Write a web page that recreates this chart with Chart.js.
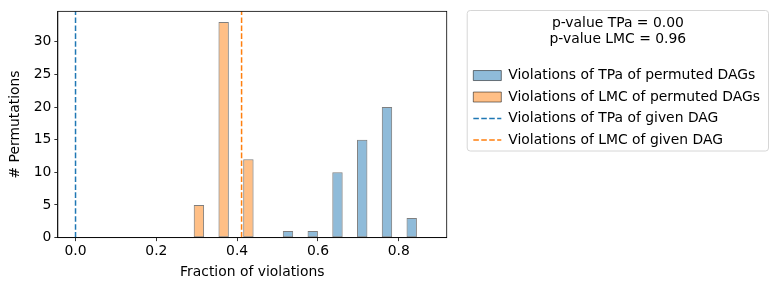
<!DOCTYPE html>
<html>
<head>
<meta charset="utf-8">
<script src="https://cdn.jsdelivr.net/npm/chart.js@4.4.1/dist/chart.umd.min.js"></script>
<style>
  html, body { margin: 0; padding: 0; background: #fff; }
  #wrap { width: 778px; height: 290px; }
</style>
</head>
<body>
<div id="wrap"><canvas id="chart"></canvas></div>
<script>
var binEdges = [0.2625, 0.32375, 0.385, 0.44625, 0.5075, 0.56875, 0.63, 0.69125, 0.7525, 0.81375, 0.875];
var tpaCounts = [0, 0, 0, 0, 1, 1, 10, 15, 20, 3];
var lmcCounts = [5, 33, 12, 0, 0, 0, 0, 0, 0, 0];
var tpaGiven = 0.0;
var lmcGiven = 0.411;
var seriesLabels = [
  'Violations of TPa of permuted DAGs',
  'Violations of LMC of permuted DAGs',
  'Violations of TPa of given DAG',
  'Violations of LMC of given DAG'
];
var pValueLines = ['p-value TPa = 0.00', 'p-value LMC = 0.96'];
var xTicks = [0.0, 0.2, 0.4, 0.6, 0.8];
var yTicks = [0, 5, 10, 15, 20, 25, 30];
var xRange = [-0.04375, 0.91875];
var yRange = [0, 34.65];

var FONT = 'DejaVu Sans';
var blue = '#1f77b4', orange = '#ff7f0e';

// matplotlib puts the two histograms side by side in each bin
function histBars(counts, slot) {
  var pts = [];
  for (var i = 0; i < counts.length; i++) {
    if (!counts[i]) continue;
    var w = binEdges[i + 1] - binEdges[i];
    pts.push({x: binEdges[i] + w * (0.3 + 0.4 * slot), y: counts[i]});
  }
  return pts;
}

function vline(v) {
  return [{x: v, y: yRange[0]}, {x: v, y: yRange[1]}];
}

var framePlugin = {
  id: 'frame',
  afterLayout: function(chart) {
    var lg = chart.legend;
    var dx = 19;
    lg.left += dx;
    lg.right += dx;
  },
  beforeDraw: function(chart) {
    var lg = chart.legend, ctx = chart.ctx;
    var x0 = lg.left + 1.5, y0 = lg.top + 0.5, x1 = lg.left + lg.width - 1.5, y1 = lg.top + 141, r = 3;
    ctx.save();
    ctx.beginPath();
    ctx.moveTo(x0 + r, y0);
    ctx.arcTo(x1, y0, x1, y1, r);
    ctx.arcTo(x1, y1, x0, y1, r);
    ctx.arcTo(x0, y1, x0, y0, r);
    ctx.arcTo(x0, y0, x1, y0, r);
    ctx.closePath();
    ctx.fillStyle = '#fff';
    ctx.fill();
    ctx.lineWidth = 1;
    ctx.strokeStyle = '#d6d6d6';
    ctx.stroke();
    ctx.restore();
  },
  afterDatasetsDraw: function(chart) {
    var a = chart.chartArea, ctx = chart.ctx;
    ctx.save();
    ctx.lineWidth = 0.8;
    ctx.strokeStyle = '#000';
    ctx.strokeRect(a.left, a.top, a.right - a.left, a.bottom - a.top);
    ctx.restore();
  }
};

var chart = new Chart(document.getElementById('chart'), {
  type: 'bar',
  data: {
    datasets: [{
      label: seriesLabels[0],
      data: histBars(tpaCounts, 0),
      backgroundColor: 'rgba(31,119,180,0.5)',
      borderColor: 'rgba(0,0,0,0.5)',
      borderWidth: 1,
      borderSkipped: false,
      grouped: false,
      categoryPercentage: 1,
      barPercentage: 0.42
    }, {
      label: seriesLabels[1],
      data: histBars(lmcCounts, 1),
      backgroundColor: 'rgba(255,127,14,0.5)',
      borderColor: 'rgba(0,0,0,0.5)',
      borderWidth: 1,
      borderSkipped: false,
      grouped: false,
      categoryPercentage: 1,
      barPercentage: 0.42
    }, {
      type: 'line',
      label: seriesLabels[2],
      data: vline(tpaGiven),
      borderColor: blue,
      borderWidth: 1.5,
      borderDash: [5.55, 2.4],
      pointRadius: 0,
      fill: false
    }, {
      type: 'line',
      label: seriesLabels[3],
      data: vline(lmcGiven),
      borderColor: orange,
      borderWidth: 1.5,
      borderDash: [5.55, 2.4],
      pointRadius: 0,
      fill: false
    }]
  },
  options: {
    responsive: true,
    maintainAspectRatio: false,
    animation: false,
    layout: {padding: {left: 0, right: 27, top: 10, bottom: 5.5}},
    font: {family: FONT, size: 13.9},
    scales: {
      x: {
        type: 'linear',
        min: xRange[0],
        max: xRange[1],
        offset: false,
        afterBuildTicks: function(axis) { axis.ticks = xTicks.map(function(v) { return {value: v}; }); },
        ticks: {
          color: '#000', padding: 2, maxRotation: 0,
          font: {family: FONT, size: 13.9},
          callback: function(v) { return v.toFixed(1); }
        },
        grid: {display: true, offset: false, drawOnChartArea: false, drawTicks: true, tickLength: 3.5, tickColor: '#000', tickWidth: 0.8},
        border: {display: true, color: '#000', width: 0.8},
        title: {display: true, text: 'Fraction of violations', color: '#000', font: {family: FONT, size: 13.9}, padding: {top: 2, bottom: 4}}
      },
      y: {
        min: yRange[0],
        max: yRange[1],
        afterBuildTicks: function(axis) { axis.ticks = yTicks.map(function(v) { return {value: v}; }); },
        ticks: {color: '#000', padding: 3, font: {family: FONT, size: 13.9}},
        grid: {display: true, drawOnChartArea: false, drawTicks: true, tickLength: 3.5, tickColor: '#000', tickWidth: 0.8},
        border: {display: true, color: '#000', width: 0.8},
        title: {display: true, text: '# Permutations', color: '#000', font: {family: FONT, size: 13.9}, padding: {top: 7, bottom: 7}}
      }
    },
    plugins: {
      tooltip: {enabled: false},
      legend: {
        position: 'right',
        align: 'start',
        maxWidth: 1000,
        title: {
          display: true,
          text: pValueLines,
          color: '#000',
          font: {family: FONT, size: 13.9, lineHeight: 1.15},
          padding: {top: 6.5, bottom: 28.5}
        },
        labels: {
          usePointStyle: true,
          pointStyleWidth: 28,
          boxHeight: 10,
          padding: 7.6,
          color: '#000',
          font: {family: FONT, size: 13.9},
          generateLabels: function(c) {
            return c.data.datasets.map(function(ds, i) {
              var isLine = ds.type === 'line';
              return {
                text: ds.label,
                datasetIndex: i,
                fillStyle: isLine ? 'rgba(0,0,0,0)' : ds.backgroundColor,
                strokeStyle: ds.borderColor,
                lineWidth: ds.borderWidth,
                lineDash: ds.borderDash || [],
                pointStyle: isLine ? 'line' : 'rect',
                fontColor: '#000',
                hidden: false
              };
            });
          }
        }
      }
    }
  },
  plugins: [framePlugin]
});
</script>
</body>
</html>
